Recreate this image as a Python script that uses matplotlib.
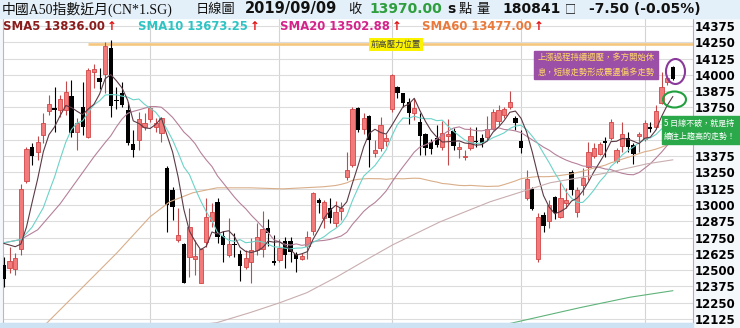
import numpy as np
import pandas as pd
import matplotlib
matplotlib.use('Agg')
from matplotlib import pyplot as plt
from matplotlib.patches import Ellipse, Rectangle

W, H = 740, 328
CJK = 'Noto Sans CJK TC'

# daily candles, oldest first
opens = [12541, 12518, 12511, 12664, 13186, 13447, 13408, 13539, 13723, 13746,
         13730, 13730, 13838, 13562, 13753, 13523, 14022, 13976, 14006, 14206,
         13807, 13861, 13730, 13470, 13500, 13600, 13661, 13600, 13554, 13286,
         13117, 12733, 12703, 12603, 12587, 12403, 12718, 12879, 13025, 12764,
         12618, 12700, 12626, 12526, 12564, 12656, 12664, 12825, 12572, 12580,
         12726, 12726, 12626, 12587, 12687, 12802, 13040, 12902, 12979, 12864,
         12956, 13217, 13309, 13746, 13585, 13684, 13401, 13439, 13493, 13738,
         13907, 13861, 13792, 13707, 13638, 13546, 13485, 13516, 13447, 13531,
         13569, 13431, 13370, 13439, 13493, 13516, 13523, 13585, 13646, 13692,
         13753, 13669, 13493, 13055, 13124, 12587, 12925, 12879, 13063, 12910,
         13017, 13255, 12948, 13155, 13293, 13378, 13393, 13493, 13516, 13339,
         13454, 13516, 13462, 13531, 13508, 13600, 13600, 13784, 13945, 14060]
highs = [12603, 12680, 12633, 13163, 13447, 13477, 13531, 13707, 13845, 13907,
         13845, 13953, 13960, 13669, 13945, 14052, 14083, 14052, 14252, 14267,
         13907, 13945, 13792, 13577, 13715, 13707, 13761, 13669, 13677, 13301,
         13140, 12979, 12710, 12979, 12733, 12672, 13055, 13017, 13055, 12802,
         12902, 12787, 12656, 12656, 12749, 12864, 12956, 12894, 12772, 12741,
         12756, 12756, 12641, 12633, 12802, 13101, 13055, 13040, 13055, 13032,
         13025, 13408, 13753, 13753, 13707, 13692, 13500, 13677, 13546, 14006,
         13914, 13861, 13822, 13822, 13707, 13554, 13508, 13615, 13646, 13661,
         13592, 13485, 13424, 13600, 13600, 13546, 13684, 13738, 13769, 13753,
         13876, 13684, 13577, 13270, 13140, 12940, 12948, 13040, 13071, 13178,
         13132, 13270, 13140, 13286, 13485, 13477, 13485, 13523, 13661, 13439,
         13638, 13562, 13477, 13562, 13654, 13638, 13769, 14022, 13983, 14068]
lows = [12373, 12480, 12465, 12618, 13171, 13309, 13347, 13477, 13692, 13562,
        13677, 13692, 13523, 13424, 13539, 13516, 13899, 13891, 13861, 13677,
        13738, 13753, 13462, 13370, 13424, 13577, 13638, 13562, 13485, 12795,
        12887, 12718, 12403, 12450, 12465, 12403, 12680, 12833, 12710, 12564,
        12603, 12603, 12419, 12510, 12403, 12618, 12603, 12687, 12541, 12564,
        12518, 12564, 12488, 12580, 12587, 12772, 12940, 12825, 12864, 12833,
        12887, 13194, 13293, 13562, 13546, 13293, 13370, 13416, 13454, 13715,
        13822, 13753, 13623, 13654, 13385, 13385, 13393, 13447, 13424, 13309,
        13424, 13362, 13347, 13424, 13447, 13447, 13500, 13577, 13615, 13669,
        13738, 13577, 13401, 13040, 12963, 12564, 12795, 12825, 12894, 12902,
        12979, 13078, 12910, 13078, 13194, 13362, 13385, 13370, 13500, 13324,
        13408, 13408, 13316, 13408, 13493, 13562, 13585, 13776, 13922, 13960]
closes = [12434, 12572, 12595, 13124, 13431, 13378, 13485, 13631, 13776, 13730,
          13815, 13868, 13554, 13631, 13600, 14037, 14045, 13945, 14221, 13761,
          13799, 13769, 13477, 13424, 13661, 13631, 13746, 13631, 13669, 13002,
          12986, 12772, 12403, 12833, 12610, 12664, 12910, 12948, 12756, 12695,
          12703, 12690, 12534, 12595, 12656, 12756, 12818, 12787, 12557, 12672,
          12618, 12641, 12587, 12610, 12756, 13094, 13017, 13025, 12902, 12948,
          12979, 13270, 13738, 13577, 13669, 13500, 13424, 13615, 13516, 13999,
          13861, 13784, 13707, 13746, 13531, 13439, 13431, 13462, 13554, 13546,
          13454, 13447, 13378, 13531, 13485, 13477, 13585, 13715, 13730, 13738,
          13792, 13631, 13439, 13201, 12971, 12910, 12841, 13002, 12940, 13055,
          13040, 13117, 13117, 13209, 13408, 13439, 13470, 13477, 13638, 13424,
          13546, 13447, 13393, 13546, 13631, 13585, 13723, 13907, 13976, 13970]

month_starts = [26, 49, 69, 92, 114]
price_ticks = list(range(12125, 14376, 125))
hidden_ticks = [13625, 13500]  # covered by the green note in the original
resist_level = 14240
resist_from = 14.9

# moving-average values before the visible candles can produce them
sma5_head_idx = [0, 2, 3]
sma5_head = [12705, 12680, 12700]
sma10_head_idx = [0, 3, 5, 7, 8]
sma10_head = [12710, 12735, 12830, 12980, 13100]
sma20_head_idx = [0, 3, 6, 10, 13, 16, 18]
sma20_head = [12710, 12735, 12810, 13010, 13190, 13370, 13480]
sma60_head_idx = [7.3, 14.1, 20.1, 26.0, 29.5, 33.6, 37.9, 43.8, 49.6, 56.8]
sma60_head = [12080, 12373, 12633, 12910, 13025, 13094, 13132, 13132, 13124, 13140]
# two longer averages that are not in the legend
long1_idx = [35.0, 37.9, 43.8, 49.1, 53.9, 59.3, 65.1, 69.2, 77.6, 86.5, 97.2, 107.3, 114.4, 119]
long1 = [12080, 12097, 12174, 12250, 12327, 12450, 12595, 12695, 12871, 13025, 13171, 13247, 13316, 13347]
long2_idx = [90.0, 102.5, 111.4, 119]
long2 = [12090, 12212, 12292, 12342]

legend = [('SMA5 13836.00', '#8b1c1c', 3), ('SMA10 13673.25', '#2ec4c4', 138),
          ('SMA20 13502.88', '#d4248c', 280), ('SMA60 13477.00', '#ea7a3c', 422)]


def fx(x):
    return x / W


def fy(y):
    return 1 - y / H


def ma_line(n, head_idx, head_val):
    m = pd.Series(closes).rolling(n).mean()
    xs = list(head_idx) + list(range(n - 1, len(closes)))
    ys = list(head_val) + list(m.iloc[n - 1:])
    return xs, ys


fig = plt.figure(figsize=(W / 100, H / 100), dpi=100, facecolor='#f4f8fb')
fig.patches.append(Rectangle((0, fy(18)), 1, 18 / H, transform=fig.transFigure,
                             color='#e4f0f9', zorder=0))
fig.patches.append(Rectangle((0, 0), fx(693), 5 / H, transform=fig.transFigure,
                             color='#cde3f3', zorder=0))

ax = fig.add_axes([fx(3), 5 / H, 690 / W, 305 / H])
ax.set_facecolor('white')
ax.set_xlim(-0.18, 122.6)
ax.set_ylim(12094, 14436)

ax.set_yticks(price_ticks)
ax.set_yticklabels(['' if v in hidden_ticks else str(v) for v in price_ticks])
ax.yaxis.tick_right()
ax.tick_params(axis='y', length=0, pad=1.5, labelsize=8.5)
for t in ax.get_yticklabels():
    t.set_fontweight('bold')
ax.set_xticks(month_starts)
ax.tick_params(axis='x', length=0, labelbottom=False)
ax.grid(axis='y', color='#dcdcdc', lw=0.8)
ax.grid(axis='x', color='#d4d4d4', lw=0.8)
ax.set_axisbelow(True)
ax.spines['top'].set_visible(False)
ax.spines['left'].set_color('#d4a6d4')
ax.spines['right'].set_color('#c8a0d0')
ax.spines['bottom'].set_color('#9cc3e0')

# candles
idx = np.arange(len(closes))
o = np.array(opens, float)
c = np.array(closes, float)
hi = np.array(highs, float)
lo = np.array(lows, float)
up = c > o
body_lo = np.minimum(o, c)
body_h = np.abs(c - o)
thin = body_h < 9
body_lo[thin] = (o[thin] + c[thin]) / 2 - 4.5
body_h[thin] = 9
ax.vlines(idx[up], lo[up], hi[up], color='#c24a4a', lw=0.8, zorder=3)
ax.vlines(idx[~up], lo[~up], hi[~up], color='black', lw=0.8, zorder=3)
ax.bar(idx[up], body_h[up], 0.76, body_lo[up], color='#f27a7a',
       edgecolor='#d24646', lw=0.6, zorder=4)
ax.bar(idx[~up], body_h[~up], 0.76, body_lo[~up], color='black', lw=0, zorder=4)

# moving averages
for n, hx, hv, col in [(60, sma60_head_idx, sma60_head, '#d9ae8a'),
                       (20, sma20_head_idx, sma20_head, '#b6809a'),
                       (10, sma10_head_idx, sma10_head, '#6cd3c8'),
                       (5, sma5_head_idx, sma5_head, '#5b3a45')]:
    xs, ys = ma_line(n, hx, hv)
    ax.plot(xs, ys, color=col, lw=0.8, zorder=5)
ax.plot(long1_idx, long1, color='#c9aeb0', lw=0.8, zorder=5)
ax.plot(long2_idx, long2, color='#5fb37a', lw=0.8, zorder=5)

# resistance line
ax.hlines(resist_level, resist_from, 122.6, color='#f5c77e', lw=1.9, zorder=2)

# header row
hy = fy(9)
fig.text(fx(2), hy, '中國A50指數近月(CN*1.SG)', family=['Liberation Serif', CJK],
         fontsize=10, va='center', color='#111')
fig.text(fx(196), hy, '日線圖', family=CJK, fontsize=9.5, va='center', color='#111')
fig.text(fx(245), hy, '2019/09/09', fontsize=10.5, fontweight='bold', va='center', color='#111')
fig.text(fx(348), hy, '收', family=CJK, fontsize=9.5, va='center', color='#111')
fig.text(fx(369), hy, '13970.00', fontsize=10, fontweight='bold', va='center', color='#2e9e3e')
fig.text(fx(447), hy, 's', fontsize=10, fontweight='bold', va='center', color='#111')
fig.text(fx(459), hy, '點', family=CJK, fontsize=9.5, va='center', color='#111')
fig.text(fx(476), hy, '量', family=CJK, fontsize=9.5, va='center', color='#111')
fig.text(fx(502), hy, '180841', fontsize=10, fontweight='bold', va='center', color='#111')
fig.text(fx(565), hy, '□', family=CJK, fontsize=8, va='center', color='#111')
fig.text(fx(589), hy, '-7.50 (-0.05%)', fontsize=10, fontweight='bold', va='center', color='#111')

# legend row with red arrows
renderer = fig.canvas.get_renderer()
for label, col, x0 in legend:
    t = fig.text(fx(x0), fy(26), label, fontsize=8.4, fontweight='bold',
                 va='center', color=col, zorder=6)
    bb = t.get_window_extent(renderer)
    fig.text(fx(bb.x1 + 2), fy(26), '↑', fontsize=8.4, fontweight='bold',
             va='center', color='#e01010', zorder=6)

# annotations
fig.text(fx(396), fy(44.5), '前高壓力位置', family=CJK, fontsize=6, ha='center',
         va='center', color='#444', zorder=7,
         bbox=dict(boxstyle='square,pad=0.25', fc='#fbf200', ec='none'))

fig.patches.append(Rectangle((fx(534), fy(79)), 124 / W, 28 / H, transform=fig.transFigure,
                             color='#9c4fa6', zorder=6))
fig.text(fx(596), fy(57.5), '上漲過程持續週壓，多方開始休', family=CJK, fontsize=6,
         ha='center', va='center', color='#ffd966', zorder=7)
fig.text(fx(596), fy(72.5), '息，短線走勢形成震盪偏多走勢', family=CJK, fontsize=6,
         ha='center', va='center', color='#ffd966', zorder=7)

fig.patches.append(Rectangle((fx(662), fy(144)), 78 / W, 28 / H, transform=fig.transFigure,
                             color='#2aa84a', zorder=6))
fig.text(fx(664), fy(123), '5 日線不破，就是持', family=[CJK], fontsize=5.8,
         va='center', color='white', zorder=7)
fig.text(fx(664), fy(136), '續往上趨高的走勢！', family=[CJK], fontsize=5.8,
         va='center', color='white', zorder=7)

fig.patches.append(Ellipse((fx(675.5), fy(71.5)), 19 / W, 25 / H, transform=fig.transFigure,
                           fill=False, ec='#8a3a9a', lw=1.5, zorder=7))
fig.patches.append(Ellipse((fx(674.5), fy(99.5)), 23 / W, 16 / H, transform=fig.transFigure,
                           fill=False, ec='#22a040', lw=1.5, zorder=7))

fig.savefig('out.png', dpi=100, facecolor=fig.get_facecolor())
